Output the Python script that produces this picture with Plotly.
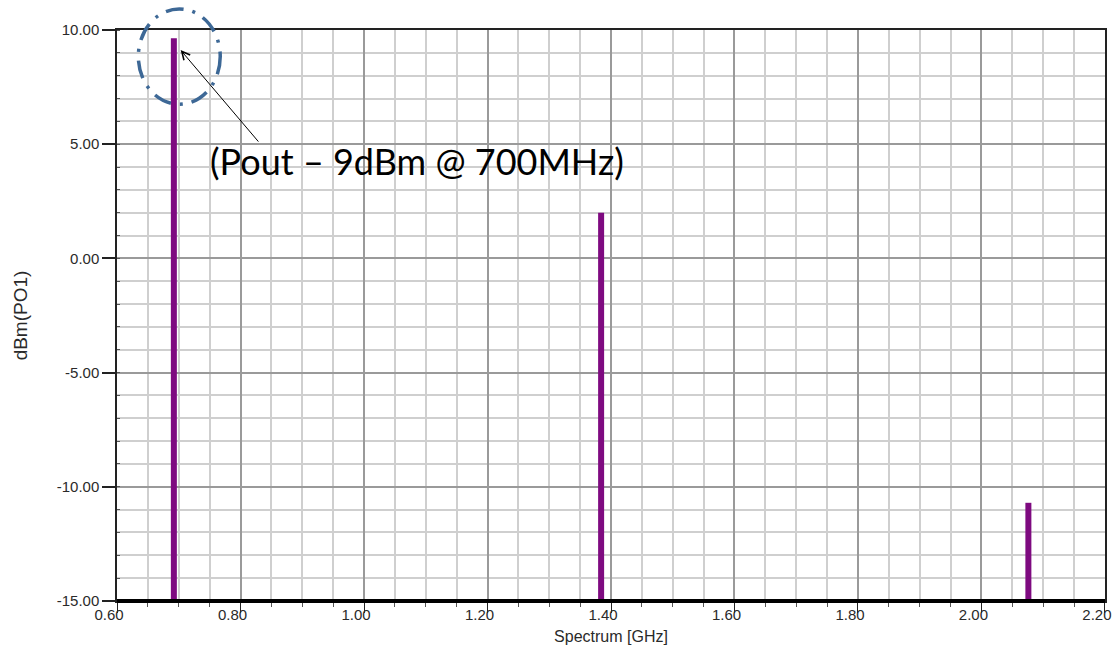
import plotly.graph_objects as go

# Spectrum lines: frequency (GHz) and power level (dBm) at PO1
freq_ghz = [0.692, 1.384, 2.076]
power_dbm = [9.64, 2.0, -10.7]

floor_dbm = -15.0
x_range = [0.5999, 2.2001]
y_range = [-15.0, 10.0]

x_ticks = [0.60, 0.80, 1.00, 1.20, 1.40, 1.60, 1.80, 2.00, 2.20]
y_ticks = [-15.0, -10.0, -5.0, 0.0, 5.0, 10.0]

x_tick_text = [f"{v:.2f}" for v in x_ticks]
y_tick_text = [f"{v:.2f}" for v in y_ticks]

annotation_text = "(Pout \u2013 9dBm @ 700MHz)"

# Build vertical spectral lines from the floor up to each level
line_x, line_y = [], []
for f, p in zip(freq_ghz, power_dbm):
    line_x += [f, f, None]
    line_y += [floor_dbm, p, None]

fig = go.Figure()
fig.add_trace(go.Scatter(
    x=line_x, y=line_y, mode="lines",
    line=dict(color="#7e0a80", width=6),
    showlegend=False, hoverinfo="skip",
))

tick_font = dict(family="Liberation Sans Narrow, Arial Narrow, Liberation Sans, Arial", size=15, color="#2a2a2a")

fig.update_layout(
    width=1117, height=654,
    margin=dict(l=117, r=12, t=30, b=53, autoexpand=False),
    paper_bgcolor="white", plot_bgcolor="white",
    xaxis=dict(
        range=x_range, tickmode="array", tickvals=x_ticks, ticktext=x_tick_text,
        automargin=False,
        showgrid=True, gridcolor="#9a9a9a", gridwidth=1.5,
        minor=dict(dtick=0.05, showgrid=True, gridcolor="#cfcfcf", gridwidth=1.5,
                   ticks="outside", ticklen=4, tickcolor="#555", tickwidth=1),
        showline=True, linecolor="#222", linewidth=2, mirror=True,
        ticks="outside", ticklen=10, tickcolor="#222", tickwidth=1,
        ticklabelstandoff=-11, ticklabelshift=-8, ticklabeloverflow="allow",
        tickfont=tick_font, zeroline=False,
        title=dict(text="Spectrum [GHz]",
                   font=dict(family="Liberation Sans, Arial", size=16, color="#2a2a2a"),
                   standoff=9),
    ),
    yaxis=dict(
        range=y_range, tickmode="array", tickvals=y_ticks, ticktext=y_tick_text,
        automargin=False,
        showgrid=True, gridcolor="#9a9a9a", gridwidth=1.5,
        minor=dict(dtick=1, showgrid=True, gridcolor="#cfcfcf", gridwidth=1.5,
                   ticks="inside", ticklen=3, tickcolor="#555", tickwidth=1),
        showline=True, linecolor="#222", linewidth=1.5, mirror=True,
        ticks="outside", ticklen=13, tickcolor="#222", tickwidth=1.5,
        tickfont=tick_font, zeroline=False,
        title=dict(text="dBm(PO1)",
                   font=dict(family="Liberation Sans, Arial", size=19, color="#2a2a2a"),
                   standoff=24),
    ),
    shapes=[
        # heavy baseline along the bottom of the plot area
        dict(type="line", xref="paper", yref="paper", x0=0, x1=1, y0=0, y1=0,
             line=dict(color="black", width=4), layer="above"),
        # dash-dot ring marking the fundamental
        dict(type="circle", xref="paper", yref="paper",
             x0=0.0216, x1=0.1045, y0=0.870, y1=1.0368,
             line=dict(color="#3d6896", width=3.5, dash="18px,9px,3px,9px"),
             layer="above"),
    ],
    annotations=[
        dict(x=freq_ghz[0] + 0.011, y=9.12, xref="x", yref="y", text="",
             showarrow=True, arrowhead=5, arrowsize=1.6, arrowwidth=1,
             arrowcolor="black", ax=79, ay=93),
        dict(x=0.092, y=0.771, xref="paper", yref="paper", text=annotation_text,
             showarrow=False, xanchor="left", yanchor="middle",
             font=dict(family="Lato, Open Sans, sans-serif", size=36, color="black")),
    ],
)

fig.write_html("out.html")
